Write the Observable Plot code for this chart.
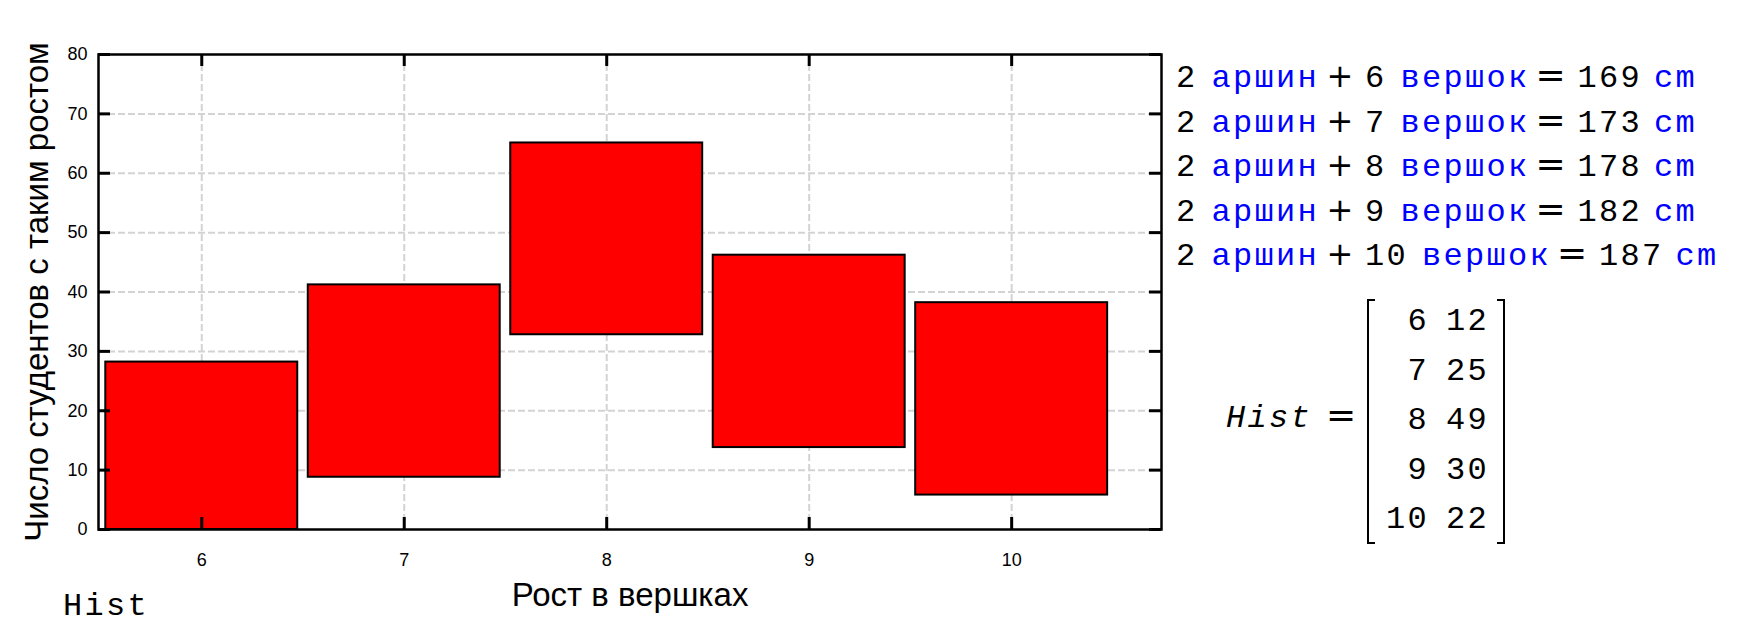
<!DOCTYPE html>
<html>
<head>
<meta charset="utf-8">
<script src="https://cdn.jsdelivr.net/npm/d3@7"></script>
<script src="https://cdn.jsdelivr.net/npm/@observablehq/plot@0.6"></script>
<style>
  html, body { margin: 0; padding: 0; background: #fff; }
  #wrap { position: relative; width: 1739px; height: 629px; overflow: hidden; }
  #wrap svg { position: absolute; left: 0; top: 0; }
</style>
</head>
<body>
<div id="wrap"></div>
<script>
// ---- data ----
const heights  = [6, 7, 8, 9, 10];                 // рост в вершках (категории)
const barLow   = [0, 8.8, 32.8, 13.8, 5.8];        // нижний край столбца
const barHigh  = [28.2, 41.2, 65.1, 46.2, 38.2];   // верхний край столбца
const counts   = [12, 25, 49, 30, 22];             // Hist, второй столбец
const heightCm = [169, 173, 178, 182, 187];        // 2 аршина + n вершков в см
const yTicks   = [0, 10, 20, 30, 40, 50, 60, 70, 80];
const yGrid    = [10, 20, 30, 40, 50, 60, 70];
const xLabel   = "Рост в вершках";
const yLabel   = "Число студентов с таким ростом";

const data = heights.map((h, i) => ({h, lo: barLow[i], hi: barHigh[i]}));

const W = 1739, H = 629;
const mL = 98, mR = 578, mT = 54, mB = 100;
const plotW = W - mL - mR, plotH = H - mT - mB;
const half = 0.474;        // half bar width (x units)
const tickLen = 12;
const gridStyle = {stroke: "#d3d3d3", strokeOpacity: 1, strokeWidth: 2, strokeDasharray: "7,3"};

const chart = Plot.plot({
  width: W, height: H,
  marginLeft: mL, marginRight: mR, marginTop: mT, marginBottom: mB,
  style: {fontFamily: "'Liberation Sans', Arial, sans-serif", color: "#000", background: "transparent"},
  x: {type: "linear", domain: [5.49, 10.74]},
  y: {domain: [0, 80]},
  marks: [
    Plot.gridY(yGrid, gridStyle),
    Plot.gridX(heights, gridStyle),
    Plot.rect(data, {x1: d => d.h - half, x2: d => d.h + half, y1: "lo", y2: "hi",
      fill: "#ff0000", stroke: "#000", strokeWidth: 2}),
    Plot.frame({stroke: "#000", strokeWidth: 2.5}),
    Plot.tickY(yTicks, {y: d => d, stroke: "#000", strokeWidth: 3, insetRight: plotW - tickLen}),
    Plot.tickY(yTicks, {y: d => d, stroke: "#000", strokeWidth: 3, insetLeft: plotW - tickLen}),
    Plot.tickX(heights, {x: d => d, stroke: "#000", strokeWidth: 3, insetTop: plotH - tickLen}),
    Plot.tickX(heights, {x: d => d, stroke: "#000", strokeWidth: 3, insetBottom: plotH - tickLen}),
    Plot.axisY({ticks: yTicks, tickSize: 0, tickPadding: 11, fontSize: 18, label: null, tickFormat: d => String(d)}),
    Plot.axisX({ticks: heights, tickSize: 0, tickPadding: 24, fontSize: 18, label: null, tickFormat: d => String(d)}),
    Plot.text([xLabel], {text: d => d, frameAnchor: "bottom", textAnchor: "middle", lineAnchor: "top", dy: 53, fontSize: 33, fill: "#000"}),
    Plot.text([yLabel], {text: d => d, frameAnchor: "left", textAnchor: "middle", rotate: -90, lineAnchor: "top", dx: -74, fontSize: 33, fill: "#000"})
  ]
});
document.getElementById("wrap").appendChild(chart);

// ---- annotations (Mathcad-style worksheet text) ----
const svg = d3.select("#wrap").append("svg")
  .attr("width", W).attr("height", H)
  .style("pointer-events", "none");

const P = 21.5, FS = 32, LS = P - 0.6 * FS;
const BLUE = "#0000ff", BLACK = "#000";
function seg(x, y, t, color, italic) {
  svg.append("text")
    .attr("x", x).attr("y", y)
    .attr("fill", color)
    .attr("font-family", "'Liberation Mono', 'Courier New', monospace")
    .attr("font-size", FS)
    .attr("letter-spacing", LS)
    .attr("font-style", italic ? "italic" : null)
    .text(t);
  return x + t.length * P;
}
function op(cx, y, t, size) {
  svg.append("text")
    .attr("x", cx).attr("y", y)
    .attr("text-anchor", "middle")
    .attr("fill", BLACK)
    .attr("font-family", "'DejaVu Sans', sans-serif")
    .attr("font-size", size)
    .text(t);
}

heights.forEach((h, i) => {
  const y = 87 + i * 44.5;
  let x = 1176;
  x = seg(x, y, "2", BLACK);
  x += 14;
  x = seg(x, y, "аршин", BLUE);
  op(x + 21, y, "+", 32);
  x += 46;
  x = seg(x, y, String(h), BLACK);
  x += 14;
  x = seg(x, y, "вершок", BLUE);
  op(x + 21, y, "=", 36);
  x += 48;
  x = seg(x, y, String(heightCm[i]), BLACK);
  x += 12;
  seg(x, y, "cm", BLUE);
});

// Hist matrix
seg(1226, 427, "Hist", BLACK, true);
op(1341, 427, "=", 36);
const bTop = 300, bBot = 543, bL = 1368, bR = 1504, serif = 7;
svg.append("path")
  .attr("d", `M${bL + serif},${bTop}H${bL}V${bBot}H${bL + serif}M${bR - serif},${bTop}H${bR}V${bBot}H${bR - serif}`)
  .attr("fill", "none").attr("stroke", BLACK).attr("stroke-width", 2);
heights.forEach((h, i) => {
  const y = 330 + i * 49.5;
  const a = String(h), b = String(counts[i]);
  seg(1429 - a.length * P, y, a, BLACK);
  seg(1489 - b.length * P, y, b, BLACK);
});

// variable name under the chart
seg(63, 615, "Hist", BLACK);
</script>
</body>
</html>
